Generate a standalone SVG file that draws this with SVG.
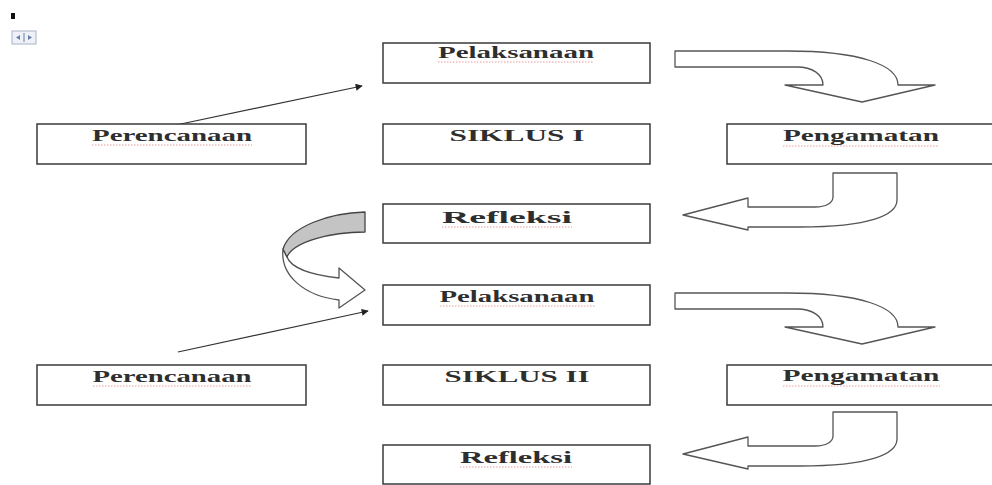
<svg xmlns="http://www.w3.org/2000/svg" width="992" height="485" viewBox="0 0 992 485">
<style>
.box{fill:#fff;stroke:#3a3a3a;stroke-width:1.5}
.lbl{font-family:"Liberation Serif","Times New Roman",serif;font-weight:bold;font-size:17px;fill:#2e2e2e;text-anchor:middle}
.sq{stroke:#e07070;stroke-width:1;stroke-dasharray:1.5 1.5;opacity:0.7;fill:none}
.blk{fill:#fff;stroke:#555;stroke-width:1.3;stroke-linejoin:round}
.ln{stroke:#333;stroke-width:1.2;fill:none}
</style>
<defs>
<marker id="ah" viewBox="0 0 10 10" refX="9" refY="5" markerWidth="9" markerHeight="7" orient="auto" markerUnits="userSpaceOnUse">
<path d="M0,0 L10,5 L0,10 Z" fill="#222"/>
</marker>
<path id="cdown" d="M675,51 L787,51 C860,51 898,65 898,85 L935,85 L862,102 L785,85 L823,85 C823,74 812,67 797,67 L675,67 Z"/>
<path id="cleft" d="M833,173 L833,197 C833,203 826,207 815,207 L748,207 L748,198 L683,215 L748,230 L748,227 L800,227 C870,227 897,215 897,200 L897,173 Z"/>
</defs>

<g id="marks">
<rect x="11" y="13" width="4" height="6" fill="#111"/>
<rect x="12" y="31" width="24" height="13" fill="#eef2f8" stroke="#a8b4c8" stroke-width="1"/>
<line x1="24" y1="33" x2="24" y2="42" stroke="#6a7fa8" stroke-width="1"/>
<path d="M16,37.5 L20,35 L20,40 Z M32,37.5 L28,35 L28,40 Z" fill="#6a7fa8"/>
</g>

<g id="connectors">
<line class="ln" x1="176" y1="125" x2="362" y2="86" marker-end="url(#ah)"/>
<line class="ln" x1="178" y1="352" x2="368" y2="311" marker-end="url(#ah)"/>
<use href="#cdown" class="blk"/>
<use href="#cleft" class="blk"/>
<use href="#cdown" class="blk" transform="translate(0,242)"/>
<use href="#cleft" class="blk" transform="translate(0,239)"/>
<g id="curved-right">
<path d="M283,249 C280,276 305,296 339,300 L339,308 L365,290 L339,268 L339,278 C312,275 291,268 287,257 Z" class="blk"/>
<path d="M365,212 C330,213 290,226 283,249 L287,257 C293,242 330,232 365,232 Z" fill="#c4c4c4" stroke="#444" stroke-width="1.3" stroke-linejoin="round"/>
</g>
</g>

<g id="pelaksanaan1">
<rect class="box" x="383" y="43" width="267" height="40"/>
<text class="lbl" x="516" y="58" textLength="156" lengthAdjust="spacingAndGlyphs">Pelaksanaan</text>
<line class="sq" x1="438" y1="62" x2="594" y2="62"/>
</g>
<g id="perencanaan1">
<rect class="box" x="37" y="124" width="269" height="40"/>
<text class="lbl" x="172" y="141" textLength="160" lengthAdjust="spacingAndGlyphs">Perencanaan</text>
<line class="sq" x1="92" y1="145" x2="252" y2="145"/>
</g>
<g id="siklus1">
<rect class="box" x="383" y="124" width="267" height="40"/>
<text class="lbl" x="517" y="141" textLength="135" lengthAdjust="spacingAndGlyphs">SIKLUS I</text>
</g>
<g id="pengamatan1">
<rect class="box" x="727" y="124" width="280" height="40"/>
<text class="lbl" x="861" y="141" textLength="156" lengthAdjust="spacingAndGlyphs">Pengamatan</text>
<line class="sq" x1="783" y1="146" x2="939" y2="146"/>
</g>
<g id="refleksi1">
<rect class="box" x="383" y="204" width="267" height="39"/>
<text class="lbl" x="507" y="223" textLength="130" lengthAdjust="spacingAndGlyphs">Refleksi</text>
<line class="sq" x1="442" y1="227" x2="572" y2="227"/>
</g>
<g id="pelaksanaan2">
<rect class="box" x="383" y="285" width="267" height="40"/>
<text class="lbl" x="517" y="302" textLength="155" lengthAdjust="spacingAndGlyphs">Pelaksanaan</text>
<line class="sq" x1="440" y1="306" x2="595" y2="306"/>
</g>
<g id="perencanaan2">
<rect class="box" x="37" y="365" width="269" height="40"/>
<text class="lbl" x="172" y="382" textLength="159" lengthAdjust="spacingAndGlyphs">Perencanaan</text>
<line class="sq" x1="93" y1="386" x2="252" y2="386"/>
</g>
<g id="siklus2">
<rect class="box" x="383" y="365" width="267" height="40"/>
<text class="lbl" x="517" y="382" textLength="145" lengthAdjust="spacingAndGlyphs">SIKLUS II</text>
</g>
<g id="pengamatan2">
<rect class="box" x="727" y="365" width="280" height="40"/>
<text class="lbl" x="861" y="381" textLength="157" lengthAdjust="spacingAndGlyphs">Pengamatan</text>
<line class="sq" x1="783" y1="386" x2="940" y2="386"/>
</g>
<g id="refleksi2">
<rect class="box" x="383" y="445" width="267" height="39"/>
<text class="lbl" x="516" y="463" textLength="112" lengthAdjust="spacingAndGlyphs">Refleksi</text>
<line class="sq" x1="460" y1="467" x2="572" y2="467"/>
</g>
</svg>
